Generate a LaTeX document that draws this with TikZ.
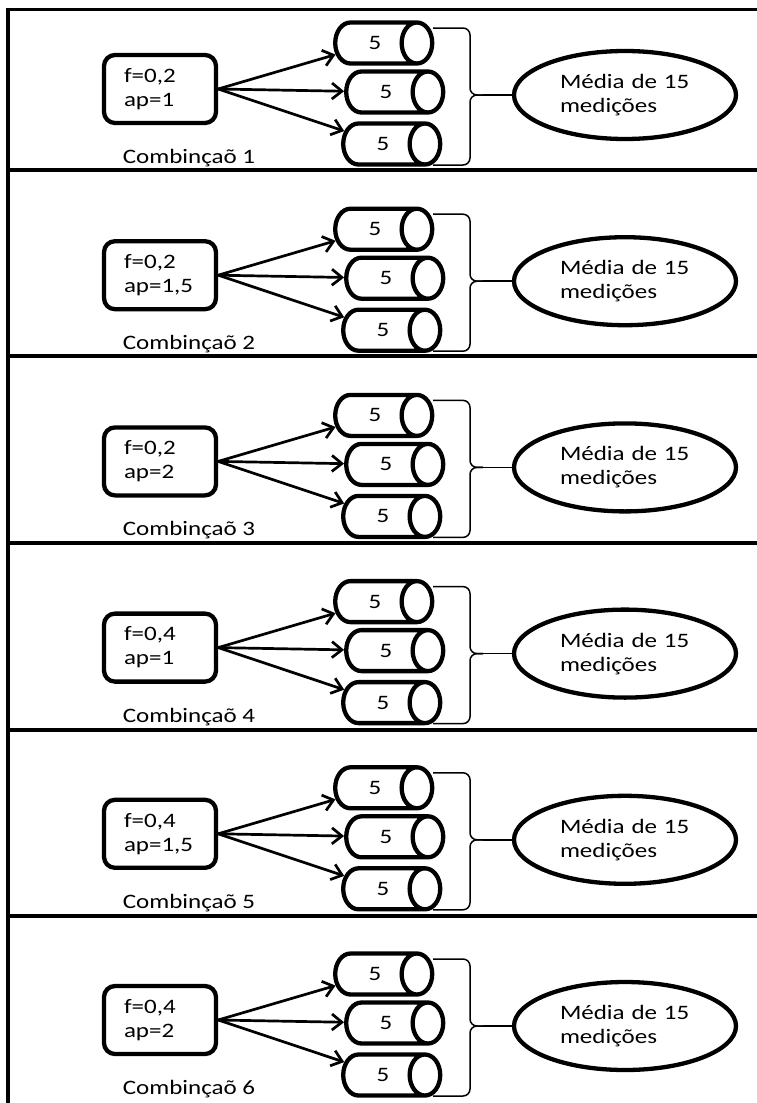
\documentclass[tikz,border=0pt]{standalone}
\usepackage{fontspec}
\setmainfont{Carlito}[FakeStretch=1.22]
\usetikzlibrary{arrows.meta, shapes.geometric}
\tikzstyle{arrow} = [-{Straight Barb[length=10pt,width=16pt]}, line width=2.7pt]
\tikzstyle{block} = [draw, rectangle, rounded corners=11pt, line width=4.3pt, minimum width=112pt, minimum height=68pt, text width=72pt, align=left, inner sep=0pt]
\tikzstyle{drum} = [draw, cylinder, aspect=2.3, line width=4.3pt, minimum width=41pt, minimum height=97pt, inner sep=0pt]
\tikzstyle{cloud} = [draw, ellipse, line width=4.3pt, minimum width=222pt, minimum height=88pt, text width=130pt, align=left, inner sep=0pt]
\tikzstyle{brace} = [line width=1.5pt, rounded corners=7pt]
\tikzstyle{rule} = [line width=3.8pt]

\begin{document}
\begin{tikzpicture}[x=1pt, y=-1pt, font=\fontsize{20.5}{24}\selectfont]
        \useasboundingbox (0,0) rectangle (757,1103);
        % frame and row separators
        \draw[rule] (8,1103) -- (8,9.5) -- (757,9.5);
        \foreach \s in {170,356,543,730,916}
                \draw[rule] (8,\s) -- (757,\s);

        \foreach \i/\f/\a in {1/{0,2}/1, 2/{0,2}/{1,5}, 3/{0,2}/2, 4/{0,4}/1, 5/{0,4}/{1,5}, 6/{0,4}/2} {
                \pgfmathsetmacro{\c}{89+186.2*(\i-1)}
                \node [block] (box\i) at (160,\c) {f=\f\\ap=\a};
                \node [drum] (top\i) at (375,\c-46) {5};
                \node [drum] (mid\i) at (386,\c+3) {5};
                \node [drum] (bot\i) at (383,\c+55) {5};
                \node [cloud] (avg\i) at (625,\c+6) {Média de 15\\medições};
                \node (lab\i) at (189,\c+69) {Combinçaõ \i};
                \coordinate (tip\i) at (483,\c+6);

                \draw [arrow] (box\i.east) -- (top\i);
                \draw [arrow] (box\i.east) -- (mid\i);
                \draw [arrow] (box\i.east) -- (bot\i);
                % brace over the three drums
                \draw [brace] (433,\c-61) -- (470,\c-61) -- (470,\c+6) -- (tip\i);
                \draw [brace] (tip\i) -- (470,\c+6) -- (470,\c+76) -- (433,\c+76);
                \draw [line width=1.5pt] (tip\i) -- (avg\i);
        }
\end{tikzpicture}
\end{document}
